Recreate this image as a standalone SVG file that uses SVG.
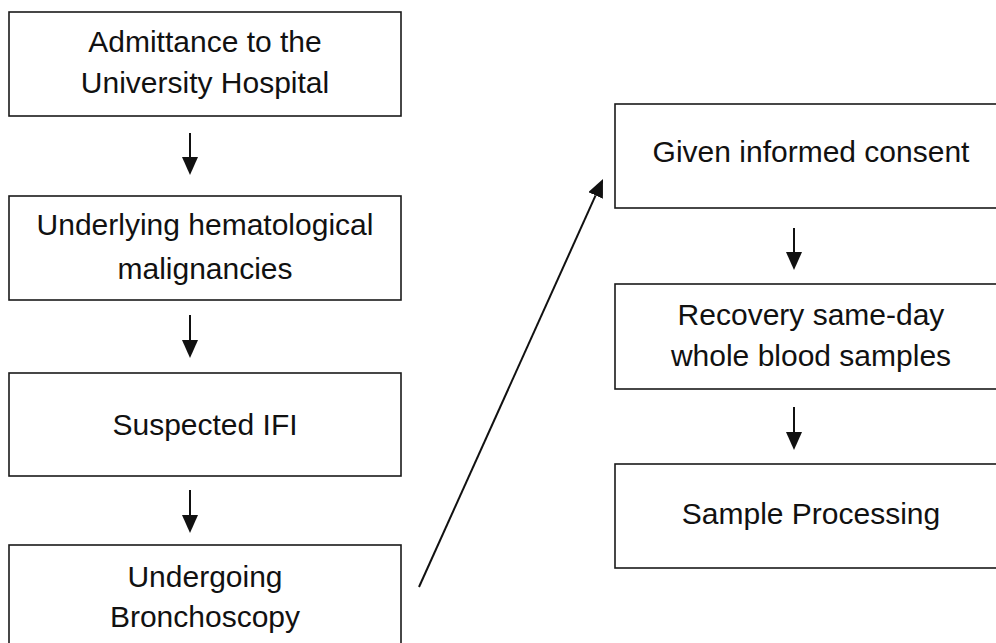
<svg xmlns="http://www.w3.org/2000/svg" width="996" height="643" viewBox="0 0 996 643">
<defs>
<style>
.box{fill:#fff;stroke:#1a1a1a;stroke-width:1.6}
.t{font-family:"Liberation Sans",Arial,sans-serif;font-size:30px;fill:#111;text-anchor:middle}
.c{stroke:#111;stroke-width:2;fill:none;marker-end:url(#ah)}
</style>
<marker id="ah" markerUnits="userSpaceOnUse" markerWidth="19" markerHeight="17" refX="0" refY="8" orient="auto">
<path d="M0,0 L18,8 L0,16 z" fill="#111"/>
</marker>
</defs>
<rect width="996" height="643" fill="#fff"/>
<g id="n1"><rect class="box" x="9" y="12" width="392" height="104"/><text class="t" x="205" y="52">Admittance to the</text><text class="t" x="205" y="93">University Hospital</text></g>
<g id="n2"><rect class="box" x="9" y="196" width="392" height="104"/><text class="t" x="205" y="235">Underlying hematological</text><text class="t" x="205" y="279">malignancies</text></g>
<g id="n3"><rect class="box" x="9" y="373" width="392" height="103"/><text class="t" x="205" y="435">Suspected IFI</text></g>
<g id="n4"><rect class="box" x="9" y="545" width="392" height="110"/><text class="t" x="205" y="587">Undergoing</text><text class="t" x="205" y="627">Bronchoscopy</text></g>
<g id="n5"><rect class="box" x="615" y="104" width="392" height="104"/><text class="t" x="811" y="162">Given informed consent</text></g>
<g id="n6"><rect class="box" x="615" y="284" width="392" height="105"/><text class="t" x="811" y="325">Recovery same-day</text><text class="t" x="811" y="366">whole blood samples</text></g>
<g id="n7"><rect class="box" x="615" y="464" width="392" height="104"/><text class="t" x="811" y="524">Sample Processing</text></g>
<g id="connectors">
<line class="c" x1="190" y1="133" x2="190" y2="157"/>
<line class="c" x1="190" y1="315" x2="190" y2="340"/>
<line class="c" x1="190" y1="490" x2="190" y2="515"/>
<line class="c" x1="794" y1="228" x2="794" y2="252"/>
<line class="c" x1="794" y1="407" x2="794" y2="432"/>
<line class="c" x1="419" y1="587" x2="595.6" y2="195.4"/>
</g>
</svg>
